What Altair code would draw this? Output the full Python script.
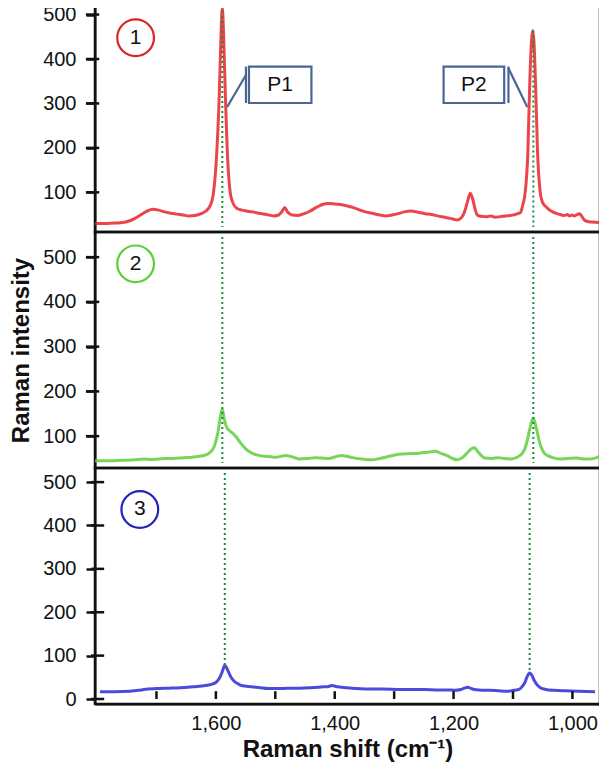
import altair as alt
import pandas as pd

# ---------------- data ----------------
red_x = [1795, 1775, 1760, 1750, 1740, 1730, 1720, 1710, 1700, 1690, 1680, 1670, 1660, 1650, 1640,
         1630, 1620, 1612, 1605, 1600, 1595, 1590, 1587, 1585, 1583, 1580, 1576, 1572, 1568,
         1562, 1553, 1545, 1535, 1525, 1512, 1500, 1492, 1486, 1482, 1477, 1470, 1460, 1450, 1440,
         1430, 1421, 1410, 1400, 1393, 1380, 1370, 1360, 1349, 1335, 1325, 1316, 1305, 1295,
         1285, 1274, 1262, 1250, 1240, 1230, 1215, 1205, 1198, 1190, 1185, 1180, 1176, 1172,
         1168, 1164, 1158, 1150, 1142, 1135, 1127, 1118, 1110, 1100, 1093, 1090, 1085, 1081, 1078,
         1075, 1073, 1071, 1068, 1065, 1061, 1057, 1050, 1040, 1030, 1021, 1016, 1012, 1008, 1004,
         1000, 996, 992, 988, 984, 975, 962]
red_y = [30, 30, 31, 32, 35, 41, 49, 57, 62, 60, 56, 53, 51, 49, 47,
         48, 52, 58, 70, 95, 170, 320, 460, 515, 460, 320, 170, 100, 78,
         65, 60, 58, 56, 53, 50, 47, 49, 58, 66, 55, 49, 48, 52, 58,
         66, 72, 75, 74, 73, 70, 66, 61, 56, 52, 49, 47, 49, 52,
         56, 58, 55, 52, 50, 47, 43, 40, 38, 44, 58, 82, 98, 85,
         62, 48, 46, 45, 47, 44, 45, 47, 48, 51, 55, 68, 105, 190, 340,
         440, 464, 440, 330, 190, 105, 78, 66, 56, 51, 48, 50, 47, 49, 47,
         50, 52, 46, 38, 35, 33, 32]

green_x = [1795, 1770, 1750, 1730, 1716, 1700, 1680, 1665, 1650, 1635, 1623, 1612, 1605, 1598, 1592,
           1588, 1585, 1582, 1578, 1573, 1569, 1562, 1555, 1545, 1536, 1525, 1515, 1505, 1497,
           1488, 1480, 1470, 1459, 1445, 1430, 1420, 1410, 1398, 1389, 1380, 1370, 1355, 1339, 1325,
           1310, 1300, 1290, 1275, 1260, 1247, 1234, 1225, 1215, 1205, 1197, 1188, 1180, 1174, 1169,
           1164, 1160, 1152, 1140, 1130, 1120, 1110, 1100, 1095, 1090, 1086, 1082, 1078, 1074, 1072,
           1070, 1066, 1062, 1058, 1054, 1047, 1040, 1028, 1015, 1000, 990, 980, 970, 962]
green_y = [45, 45, 46, 47, 49, 48, 50, 50, 52, 53, 55, 58, 64, 78, 110,
           145, 160, 140, 120, 112, 108, 98, 85, 70, 62, 57, 55, 54, 53,
           55, 57, 54, 49, 50, 52, 51, 50, 54, 57, 55, 52, 49, 47, 50,
           55, 58, 60, 61, 62, 64, 66, 62, 57, 50, 47, 53, 64, 72, 74,
           66, 60, 51, 50, 52, 50, 49, 52, 56, 62, 72, 90, 115, 136, 140,
           134, 112, 88, 72, 62, 56, 52, 49, 50, 51, 49, 49, 51, 55]

blue_x = [1795, 1770, 1745, 1730, 1721, 1700, 1680, 1660, 1640, 1623, 1610, 1600, 1595, 1590, 1587,
          1585, 1582, 1578, 1574, 1570, 1564, 1557, 1540, 1525, 1513, 1490, 1470, 1459, 1440,
          1420, 1410, 1405, 1398, 1380, 1365, 1349, 1320, 1290, 1270, 1250, 1225, 1210, 1197, 1188,
          1182, 1176, 1170, 1165, 1158, 1152, 1140, 1125, 1110, 1098, 1090, 1085, 1080, 1076, 1072,
          1068, 1064, 1059, 1054, 1045, 1030, 1010, 990, 962]
blue_y = [17, 17, 18, 20, 22, 24, 25, 26, 28, 30, 33, 38, 46, 60, 72,
          78, 72, 60, 49, 42, 36, 31, 28, 26, 24, 24, 25, 25, 26,
          28, 29, 31, 29, 26, 24, 23, 23, 22, 22, 22, 21, 21, 20, 22,
          25, 27, 24, 22, 21, 20, 20, 19, 18, 20, 22, 28, 38, 52, 60,
          54, 42, 32, 26, 22, 20, 19, 18, 17]

peak_positions = [1585, 1072]
x_ticks_minor = [1700, 1600, 1500, 1400, 1300, 1200, 1100, 1000]
x_labels = [1600, 1400, 1200, 1000]
panel_numbers = ["1", "2", "3"]

# ---------------- styling ----------------
FONT = "Liberation Sans, Arial, Helvetica, sans-serif"
W = 505
XDOM = [962, 1795]
x_scale = alt.Scale(domain=XDOM, reverse=True, nice=False, zero=False)
BOX_COLOR = "#4a6794"
DOT_COLOR = "#1e8a3c"
INK = "#111111"
TICK_OUT = 1810   # tick mark outer end (just left of the plot)
TICK_IN = 1788    # tick mark inner end (just inside the plot)


def yaxis(values, show_title):
    return alt.Axis(values=values, title="Raman intensity",
                    titleOpacity=1 if show_title else 0,
                    titleFontSize=24, titleFontWeight="bold", titleFont=FONT,
                    titleColor=INK, titlePadding=9,
                    labelFontSize=20, labelFont=FONT, labelColor=INK,
                    labelPadding=10, ticks=True, tickSize=9, tickWidth=2.5, tickColor=INK,
                    domain=True, domainColor=INK, domainWidth=2, grid=False)


def xaxis(bottom):
    if not bottom:
        return None
    return alt.Axis(values=x_labels, labelExpr="format(datum.value, ',')",
                    title="Raman shift (cm\u207b\u00b9)",
                    ticks=False, labelFontSize=20, labelFont=FONT,
                    labelColor=INK, labelPadding=9,
                    titleFontSize=24, titleFontWeight="bold", titleFont=FONT,
                    titleColor=INK, titlePadding=4,
                    domain=True, domainColor=INK, domainWidth=2, grid=False)


def enc_x(field, bottom):
    return alt.X(field, scale=x_scale, axis=xaxis(bottom))


def enc_y(field, ysc, yvals, show_title):
    return alt.Y(field, scale=ysc, axis=yaxis(yvals, show_title))


def panel(sx, sy, color, ydom, yvals, num, num_y, circle_color, rule_ranges,
          show_title, bottom):
    ysc = alt.Scale(domain=ydom, nice=False, zero=False)
    df = pd.DataFrame({"x": sx, "y": sy})

    line = alt.Chart(df).mark_line(color=color, strokeWidth=3, clip=True, opacity=0.85,
                                   interpolate="monotone").encode(
        x=enc_x("x:Q", bottom), y=enc_y("y:Q", ysc, yvals, show_title))

    rdf = pd.DataFrame({"x": peak_positions,
                        "y": [r[0] for r in rule_ranges],
                        "y2": [r[1] for r in rule_ranges]})
    rules = alt.Chart(rdf).mark_rule(color=DOT_COLOR, strokeWidth=2, strokeDash=[2, 3]).encode(
        x=enc_x("x:Q", bottom), y=enc_y("y:Q", ysc, yvals, show_title), y2="y2:Q")

    cdf = pd.DataFrame({"x": [1728], "y": [num_y], "t": [num]})
    circ = alt.Chart(cdf).mark_point(shape="circle", size=1350, filled=False,
                                     color=circle_color, strokeWidth=2.2, opacity=1).encode(
        x=enc_x("x:Q", bottom), y=enc_y("y:Q", ysc, yvals, show_title))
    ctext = alt.Chart(cdf).mark_text(fontSize=21, font=FONT, color=INK,
                                     baseline="middle", align="center").encode(
        x=enc_x("x:Q", bottom), y=enc_y("y:Q", ysc, yvals, show_title), text="t:N")

    # y tick marks crossing the left axis, drawn as thin bars
    tdf = pd.DataFrame({"v": yvals, "a": [TICK_OUT] * len(yvals), "b": [TICK_IN] * len(yvals)})
    yticks = alt.Chart(tdf).mark_bar(color=INK, size=2.5, orient="horizontal").encode(
        x=enc_x("a:Q", bottom), x2="b:Q", y=enc_y("v:Q", ysc, yvals, show_title))

    return [line, rules, circ, ctext, yticks], ysc


Y1 = [100, 200, 300, 400, 500]
Y3 = [0, 100, 200, 300, 400, 500]

# Panel 1 with callouts
l1, ys1 = panel(red_x, red_y, "#e8242c", [22, 508], Y1,
                panel_numbers[0], 448, "#d9262c", [(508, 22), (464, 22)], False, False)

box_df = pd.DataFrame({"x": [1541, 1220], "x2": [1438, 1120], "y": [383, 383], "y2": [301, 301],
                       "t": ["P1", "P2"], "xc": [1489.5, 1170], "yc": [342, 342]})
boxes = alt.Chart(box_df).mark_rect(fill="white", stroke=BOX_COLOR, strokeWidth=2.2).encode(
    x=enc_x("x:Q", False), x2="x2:Q", y=enc_y("y:Q", ys1, Y1, False), y2="y2:Q")
btext = alt.Chart(box_df).mark_text(fontSize=21, font=FONT, color=INK, baseline="middle").encode(
    x=enc_x("xc:Q", False), y=enc_y("yc:Q", ys1, Y1, False), text="t:N")
seg_df = pd.DataFrame({"x": [1546, 1546, 1113, 1113], "x2": [1546, 1577, 1113, 1082],
                       "y": [383, 364, 383, 379], "y2": [301, 292, 301, 292]})
segs = alt.Chart(seg_df).mark_rule(color=BOX_COLOR, strokeWidth=2.2).encode(
    x=enc_x("x:Q", False), x2="x2:Q", y=enc_y("y:Q", ys1, Y1, False), y2="y2:Q")

p1 = alt.layer(*l1, segs, boxes, btext).properties(width=W, height=226)

l2, ys2 = panel(green_x, green_y, "#5fcf3c", [40, 545], Y1,
                panel_numbers[1], 485, "#5ccf3a", [(545, 40), (545, 40)], True, False)
p2 = alt.layer(*l2).properties(width=W, height=236)

l3, ys3 = panel(blue_x, blue_y, "#2a2ad6", [0, 521], Y3,
                panel_numbers[2], 437, "#2222c0", [(521, 78), (521, 60)], False, True)
tick_df = pd.DataFrame({"x": x_ticks_minor, "lo": [0] * len(x_ticks_minor),
                        "hi": [18] * len(x_ticks_minor)})
xticks = alt.Chart(tick_df).mark_bar(color=INK, size=2.5, orient="vertical").encode(
    x=enc_x("x:Q", True), y=enc_y("lo:Q", ys3, Y3, False), y2="hi:Q")
p3 = alt.layer(*l3, xticks).properties(width=W, height=236)

chart = alt.vconcat(p1, p2, p3, spacing=0, bounds="flush").properties(
    padding={"left": 0, "top": -5, "right": -3, "bottom": 0},
    background="white",
).configure_view(stroke=INK, strokeWidth=2.5)

chart.save("out.html", embed_options={"renderer": "svg", "actions": False})
